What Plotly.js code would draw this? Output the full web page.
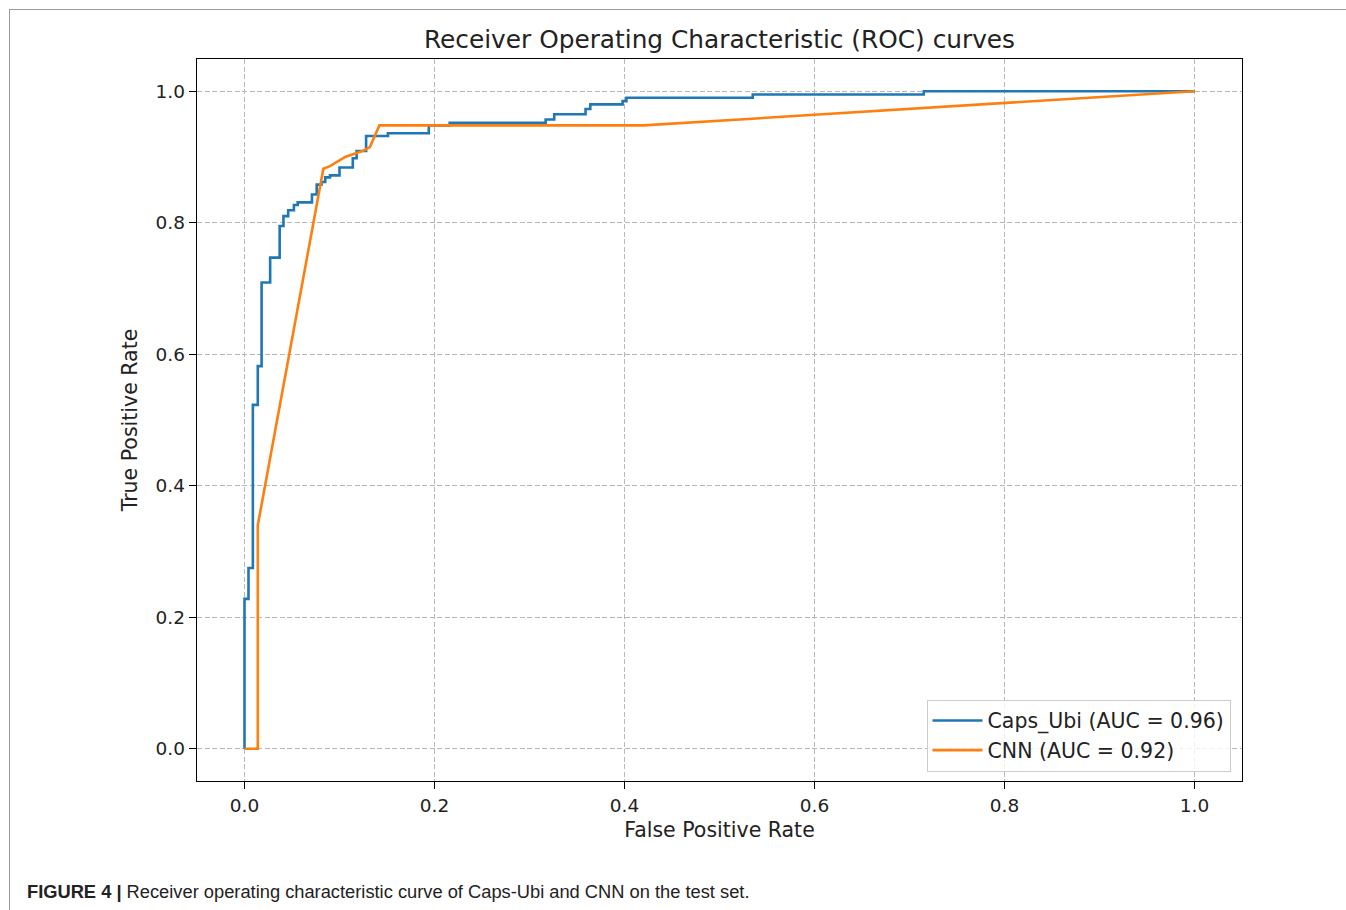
<!DOCTYPE html>
<html>
<head>
<meta charset="utf-8">
<script src="https://cdn.plot.ly/plotly-3.0.1.min.js"></script>
<style>
  html, body { margin: 0; padding: 0; background: #fff; }
  #frame { position: absolute; left: 9px; top: 9px; width: 1400px; height: 1000px;
           border-top: 1px solid #9a9a9a; border-left: 1px solid #9a9a9a; pointer-events: none; z-index: 5; }
  #chart { width: 1346px; height: 910px; }
</style>
</head>
<body>
<div id="frame"></div>
<div id="chart"></div>
<script>
const capsFpr = [0, 0, 0.0042, 0.0042, 0.0088, 0.0088, 0.014, 0.014, 0.018, 0.018, 0.027, 0.027, 0.037, 0.037, 0.041, 0.041, 0.046, 0.046, 0.052, 0.052, 0.056, 0.056, 0.071, 0.071, 0.076, 0.076, 0.081, 0.081, 0.085, 0.085, 0.090, 0.090, 0.100, 0.100, 0.114, 0.114, 0.118, 0.118, 0.128, 0.128, 0.151, 0.151, 0.194, 0.194, 0.216, 0.216, 0.317, 0.317, 0.326, 0.326, 0.359, 0.359, 0.364, 0.364, 0.398, 0.398, 0.402, 0.402, 0.535, 0.535, 0.715, 0.715, 1.0];
const capsTpr = [0, 0.228, 0.228, 0.275, 0.275, 0.523, 0.523, 0.582, 0.582, 0.709, 0.709, 0.747, 0.747, 0.795, 0.795, 0.810, 0.810, 0.819, 0.819, 0.827, 0.827, 0.831, 0.831, 0.843, 0.843, 0.858, 0.858, 0.862, 0.862, 0.869, 0.869, 0.872, 0.872, 0.884, 0.884, 0.898, 0.898, 0.909, 0.909, 0.932, 0.932, 0.936, 0.936, 0.948, 0.948, 0.952, 0.952, 0.957, 0.957, 0.965, 0.965, 0.973, 0.973, 0.980, 0.980, 0.985, 0.985, 0.990, 0.990, 0.995, 0.995, 1.0, 1.0];

const cnnFpr = [0, 0.014, 0.014, 0.083, 0.090, 0.095, 0.100, 0.106, 0.118, 0.126, 0.132, 0.142, 0.420, 1.0];
const cnnTpr = [0, 0, 0.340, 0.882, 0.886, 0.890, 0.894, 0.900, 0.906, 0.910, 0.915, 0.948, 0.948, 1.0];

const seriesNames = ["Caps_Ubi (AUC = 0.96)", "CNN (AUC = 0.92)"];
const tickVals = [0, 0.2, 0.4, 0.6, 0.8, 1.0];
const tickText = ["0.0", "0.2", "0.4", "0.6", "0.8", "1.0"];

const font = "DejaVu Sans, sans-serif";

const traces = [
  { x: capsFpr, y: capsTpr, mode: "lines", name: seriesNames[0],
    line: { color: "#1f77b4", width: 2.6 } },
  { x: cnnFpr, y: cnnTpr, mode: "lines", name: seriesNames[1],
    line: { color: "#ff7f0e", width: 2.6 } }
];

const axisCommon = {
  showline: true, linecolor: "#000", linewidth: 1.3, mirror: true,
  ticks: "outside", ticklen: 7, tickwidth: 1.3, tickcolor: "#000",
  showgrid: true, gridcolor: "#b8b8b8", griddash: "5px,2.5px", gridwidth: 1.1,
  zeroline: false, tickvals: tickVals, ticktext: tickText,
  tickfont: { family: font, size: 18.5, color: "#222" }
};

const layout = {
  width: 1346, height: 910,
  margin: { l: 197, r: 104, t: 59, b: 129 },
  paper_bgcolor: "#fff", plot_bgcolor: "#fff",
  title: { text: "Receiver Operating Characteristic (ROC) curves",
           font: { family: font, size: 24.8, color: "#222" },
           xref: "paper", x: 0.5, xanchor: "center", y: 1 - 39/910, yanchor: "middle" },
  xaxis: Object.assign({}, axisCommon, {
    range: [-0.05, 1.05],
    title: { text: "False Positive Rate", font: { family: font, size: 20.5, color: "#222" }, standoff: 8 }
  }),
  yaxis: Object.assign({}, axisCommon, {
    range: [-0.049, 1.049],
    title: { text: "True Positive Rate", font: { family: font, size: 20.5, color: "#222" }, standoff: 12 }
  }),
  legend: {
    x: 0.989, y: 0.013, xanchor: "right", yanchor: "bottom",
    bgcolor: "rgba(255,255,255,0.8)", bordercolor: "#cccccc", borderwidth: 1,
    font: { family: font, size: 20.5, color: "#222" },
    tracegroupgap: 0, itemwidth: 50
  },
  showlegend: true,
  annotations: [{
    xref: "paper", yref: "paper",
    x: (25 - 197) / 1045, y: -(891 - 781) / 721, xanchor: "left", yanchor: "middle",
    showarrow: false,
    text: "<b>FIGURE 4</b> <b>|</b> Receiver operating characteristic curve of Caps-Ubi and CNN on the test set.",
    font: { family: "Liberation Sans, Arial, sans-serif", size: 18.3, color: "#222" }
  }]
};

Plotly.newPlot("chart", traces, layout, { displayModeBar: false, staticPlot: true });
</script>
</body>
</html>
